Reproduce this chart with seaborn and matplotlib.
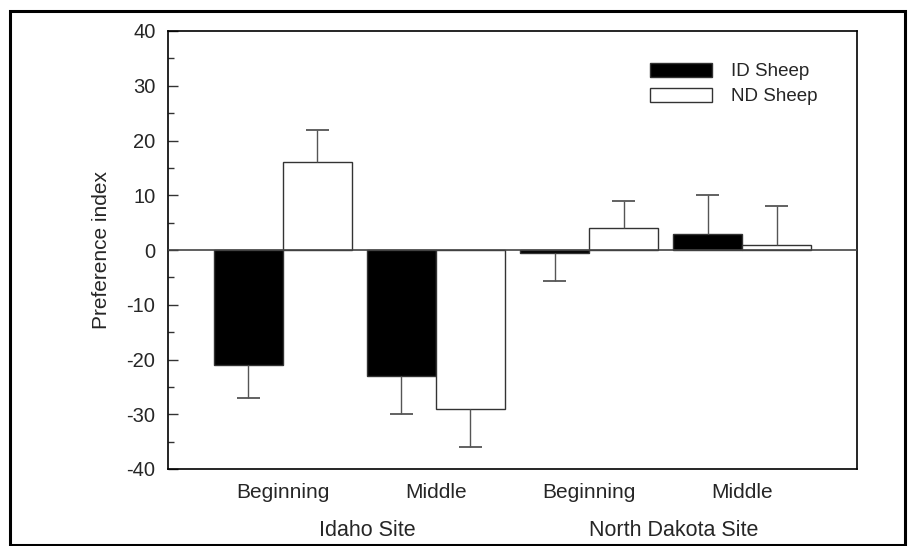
import matplotlib
matplotlib.use("Agg")
import matplotlib.pyplot as plt
import matplotlib.patches as mpatches
from matplotlib.ticker import MultipleLocator
import seaborn as sns
import pandas as pd

# ---- data ----
sites = ["Idaho Site", "Idaho Site", "North Dakota Site", "North Dakota Site"]
periods = ["Beginning", "Middle", "Beginning", "Middle"]
groups = ["Idaho Beginning", "Idaho Middle", "ND Beginning", "ND Middle"]
id_sheep = [-21.0, -23.0, -0.5, 3.0]
id_err = [6.0, 7.0, 5.1, 7.0]
nd_sheep = [16.0, -29.0, 4.1, 0.9]
nd_err = [6.0, 7.0, 4.8, 7.1]
series_names = ["ID Sheep", "ND Sheep"]
site_labels = ["Idaho Site", "North Dakota Site"]
yticks = [-40, -30, -20, -10, 0, 10, 20, 30, 40]

df = pd.DataFrame({
    "group": groups * 2,
    "value": id_sheep + nd_sheep,
    "err": id_err + nd_err,
    "sheep": [series_names[0]] * 4 + [series_names[1]] * 4,
})

sns.set_style("white")
plt.rcParams["font.family"] = ["Liberation Sans", "DejaVu Sans"]
plt.rcParams["axes.unicode_minus"] = False

fig = plt.figure(figsize=(9.12, 5.46), dpi=100)
ax = fig.add_axes([168 / 912, 1 - 469 / 546, (857 - 168) / 912, (469 - 31) / 546])

sns.barplot(data=df, x="group", y="value", hue="sheep", order=groups,
            hue_order=series_names, palette=["black", "white"],
            edgecolor="#333333", linewidth=1.0, width=0.9, errorbar=None,
            ax=ax, zorder=2)

# one-sided error bars (stem from bar tip, cap at far end only)
errs = [id_err, nd_err]
cap = 0.075
for cont, ev in zip(ax.containers, errs):
    for p, e in zip(cont.patches, ev):
        xc = p.get_x() + p.get_width() / 2
        tip = p.get_y() + p.get_height()
        end = tip + e if tip >= 0 else tip - e
        ax.vlines(xc, tip, end, color="#555555", lw=1.0, zorder=3)
        ax.hlines(end, xc - cap, xc + cap, color="#555555", lw=1.3, zorder=3)

ax.axhline(0, color="#444444", lw=1.2, zorder=4)

ax.set_xlim(-0.75, 3.75)
ax.set_ylim(-40, 40)
ax.set_yticks(yticks)
ax.yaxis.set_minor_locator(MultipleLocator(5))
ax.tick_params(axis="y", which="major", direction="in", length=7, width=1,
               labelsize=14.5, pad=9, left=True, color="#333333")
ax.tick_params(axis="y", which="minor", direction="in", length=4, width=1,
               left=True, color="#333333")
ax.tick_params(axis="x", length=0, labelsize=15, pad=10)
ax.set_xticks(range(4))
ax.set_xticklabels(periods)
ax.set_xlabel("")
ax.set_ylabel("Preference index", fontsize=15, labelpad=11)

for s in ax.spines.values():
    s.set_visible(True)
    s.set_color("black")
    s.set_linewidth(1.2)

# site labels
for i, lab in enumerate(site_labels):
    ax.text(0.55 + 2 * i, -0.14, lab, transform=ax.get_xaxis_transform(),
            ha="center", va="center", fontsize=15.5)

# legend
handles, labels = ax.get_legend_handles_labels()
ax.legend(handles, labels, loc="upper left", bbox_to_anchor=(0.70, 0.928),
          frameon=False, fontsize=13.5, handlelength=3.3, handleheight=0.8,
          labelspacing=0.4, handletextpad=1.0, borderpad=0, borderaxespad=0)

# outer frame
fig.patches.append(mpatches.Rectangle((10.5 / 912, 1.2 / 546), (905 - 10.5) / 912,
                                      (545 - 11) / 546, transform=fig.transFigure,
                                      fill=False, edgecolor="black", lw=2.2))

fig.savefig("out.png", dpi=100)
